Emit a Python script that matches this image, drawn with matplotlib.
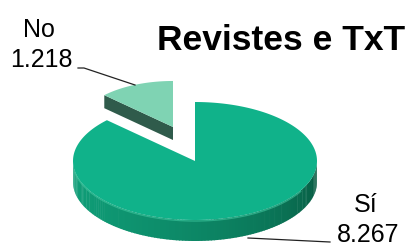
import numpy as np
import matplotlib
matplotlib.use("Agg")
import matplotlib.pyplot as plt
from matplotlib.patches import Polygon
from matplotlib.colors import to_rgb

# ---- data ----
categories = ["No", "Sí"]
values = [1218, 8267]
value_labels = ["1.218", "8.267"]
title = "Revistes e TxT"

# ---- style / geometry (pixel-like data units) ----
W, H = 416, 246
cx, cy = 195, 161        # centre of main slice top face
rx, ry = 122, 59
depth = 21
no_offset = (-22, -34)   # exploded slice apex offset
no_scale = 0.78          # perspective shrink of the exploded slice
top_main = "#10B28A"
side_main_l = "#0F9E78"
side_main_r = "#07573F"
top_no = "#7FD3B3"
side_no = "#2F5B4B"

plt.rcParams['font.family'] = ['Liberation Sans', 'DejaVu Sans']
fig = plt.figure(figsize=(W / 100, H / 100), dpi=100)
ax = fig.add_axes([0, 0, 1, 1])
ax.set_xlim(0, W)
ax.set_ylim(H, 0)
ax.axis('off')

total = sum(values)
fracs = [v / total for v in values]
start = 90.0
angles = []
a = start
for f in fracs:
    angles.append((a, a + 360 * f))
    a += 360 * f


def rim(theta_deg, ox, oy, sx, sy):
    t = np.radians(theta_deg)
    return ox + sx * np.cos(t), oy - sy * np.sin(t)


# ---- exploded "No" slice (behind) ----
a0, a1 = angles[0]
ncx, ncy = cx + no_offset[0], cy + no_offset[1]
nrx, nry, nd = rx * no_scale, ry * no_scale, depth * 0.62
ex, ey = rim(a1, ncx, ncy, nrx, nry)
# radial side face at a1
ax.add_patch(Polygon([(ncx, ncy), (ex, ey), (ex, ey + nd), (ncx, ncy + nd)],
                     closed=True, fc=side_no, ec='none', zorder=1))
th = np.linspace(a0, a1, 60)
xs, ys = rim(th, ncx, ncy, nrx, nry)
ax.add_patch(Polygon(np.column_stack([np.r_[ncx, xs], np.r_[ncy, ys]]),
                     closed=True, fc=top_no, ec='none', zorder=2))

# ---- main "Sí" slice ----
b0, b1 = angles[1]
# front side wall (visible where sin < 0) with gradient
c_l, c_r = np.array(to_rgb(side_main_l)), np.array(to_rgb(side_main_r))
n = 120
ths = np.linspace(180, 360, n + 1)
for i in range(n):
    t0, t1 = ths[i], ths[i + 1] + 0.4
    tt = np.linspace(t0, t1, 4)
    x, y = rim(tt, cx, cy, rx, ry)
    poly = np.column_stack([np.r_[x, x[::-1]], np.r_[y, (y + depth)[::-1]]])
    frac = i / n
    col = c_l * (1 - frac ** 1.6) + c_r * frac ** 1.6
    ax.add_patch(Polygon(poly, closed=True, fc=col, ec='none', zorder=3))
th = np.linspace(b0, b1, 300)
xs, ys = rim(th, cx, cy, rx, ry)
ax.add_patch(Polygon(np.column_stack([np.r_[cx, xs], np.r_[cy, ys]]),
                     closed=True, fc=top_main, ec='none', zorder=4))
# subtle highlight on the front rim
th = np.linspace(190, 330, 100)
xs, ys = rim(th, cx, cy, rx, ry)
ax.plot(xs, ys + 1, color="#3FC9A0", lw=1.0, alpha=0.6, zorder=5)

# ---- labels ----
fs = 18
ax.text(39, 37, categories[0], fontsize=fs, ha='center', va='baseline', zorder=6)
ax.text(41, 67, value_labels[0], fontsize=fs, ha='center', va='baseline', zorder=6)
ax.plot([78, 84, 135], [68, 68, 85], color='#222222', lw=0.9, zorder=6)

ax.text(366, 212, categories[1], fontsize=fs, ha='center', va='baseline', zorder=6)
ax.text(368, 242, value_labels[1], fontsize=fs, ha='center', va='baseline', zorder=6)
ax.plot([248, 330], [238, 242], color='#222222', lw=0.9, zorder=6)

ax.text(281, 50, title, fontsize=25.5, fontweight='bold', ha='center',
        va='baseline', zorder=6)

fig.savefig("out.png", dpi=100)
